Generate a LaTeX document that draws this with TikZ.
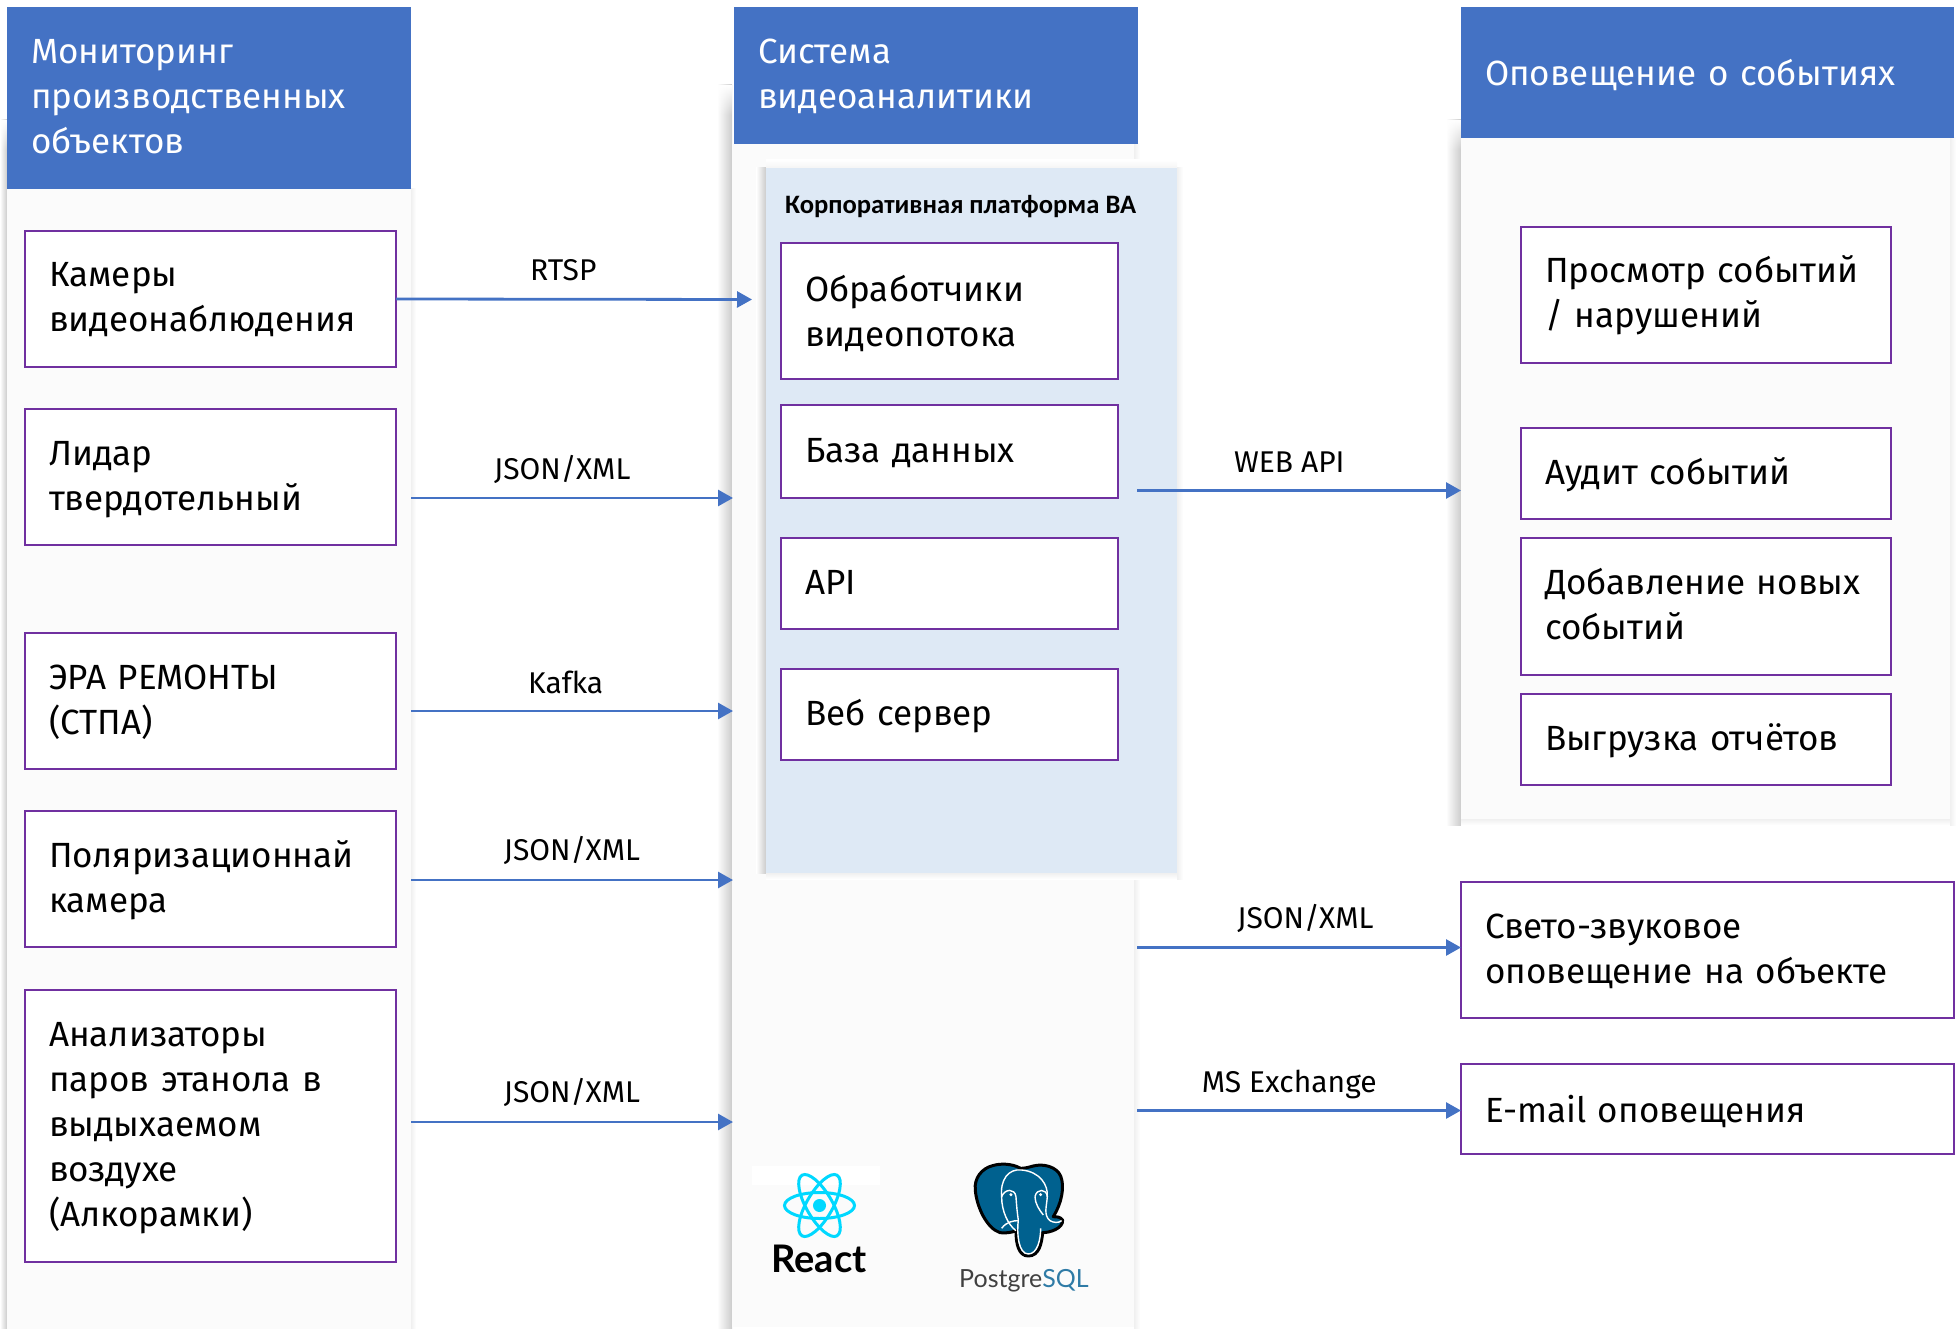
\documentclass[tikz,border=0pt]{standalone}
\usepackage{fontspec}
\setmainfont{Fira Sans}
\newfontfamily\titlefont{Carlito}
\newfontfamily\reactfont{Lato}
\usetikzlibrary{arrows.meta,fadings}
\definecolor{headblue}{HTML}{4472C4}
\definecolor{boxpurple}{HTML}{7030A0}
\definecolor{platblue}{HTML}{DEE9F5}
\definecolor{panelgray}{HTML}{FBFBFB}
\definecolor{reactcyan}{HTML}{00D8FF}
\definecolor{pgblue}{HTML}{00618F}
\definecolor{sqlblue}{HTML}{2F7BA6}
\newcommand{\boxstrut}{\rule[-12pt]{0pt}{45pt}}
\newcommand{\lowstrut}{\rule{0pt}{38pt}}
\tikzset{
    panel/.style={fill=panelgray, anchor=north west, inner sep=0pt, outer sep=0pt},
    head/.style={fill=headblue, text=white, anchor=north west, align=left, inner xsep=24pt, inner ysep=0pt, outer sep=0pt, font=\fontsize{35}{45}\selectfont, execute at begin node=\boxstrut, execute at end node=\boxstrut},
    item/.style={draw=boxpurple, line width=2.2pt, fill=white, anchor=north west, align=left, inner xsep=24pt, inner ysep=0pt, outer sep=0pt, font=\fontsize{35}{45}\selectfont, execute at begin node=\boxstrut, execute at end node=\boxstrut},
    lbl/.style={font=\fontsize{30}{32}\selectfont, inner sep=0pt},
    softshade/.style={left color=white, right color=black!20, draw=none},
    softright/.style={left color=black!6, right color=white, draw=none},
    softdown/.style={top color=black!6, bottom color=white, draw=none},
    softup/.style={top color=white, bottom color=black!4, draw=none},
    softtop/.style={fill=white, draw=none, path fading=south}
}
\begin{document}
\begin{tikzpicture}[x=1pt,y=-1pt]
\useasboundingbox (0,0) rectangle (1957,1329);
% shadows round the panels
\shade[softshade] (0,120) rectangle (7,1329);
\shade[softshade] (717,85) rectangle (732,1329);
\shade[softshade] (1446,120) rectangle (1461,825);
\fill[softtop] (0,120) rectangle (7,150);
\fill[softtop] (717,85) rectangle (732,115);
\fill[softtop] (1446,120) rectangle (1461,150);
\shade[softdown] (1461,819) rectangle (1950,825);
\shade[softright] (411,189) rectangle (416,1329);
\shade[softright] (1134,144) rectangle (1140,1329);
\shade[softright] (1950,138) rectangle (1956,825);
% panels
\node[panel, minimum width=404pt, minimum height=1140pt] (c1) at (7,189) {};
\node[panel, minimum width=402pt, minimum height=1183pt] (c2) at (732,144) {};
\node[panel, minimum width=489pt, minimum height=681pt] (c3) at (1461,138) {};
% headers
\node[head, text width=356pt, minimum height=182pt] (h1) at (7,7) {Мониторинг\\производственных\\объектов};
\node[head, text width=356pt, minimum height=137pt] (h2) at (734,7) {Система\\видеоаналитики};
\node[head, text width=445pt, minimum height=131pt] (h3) at (1461,7) {\lowstrut Оповещение о событиях};
% platform
\shade[softshade] (756,168) rectangle (766,873);
\shade[softright] (1177,168) rectangle (1183,879);
\shade[softdown] (766,873) rectangle (1177,879);
\shade[softup] (766,160) rectangle (1177,168);
\node[panel, fill=platblue, minimum width=411pt, minimum height=705pt] (p0) at (766,168) {};
\node[anchor=west, inner sep=0pt, font=\titlefont\bfseries\fontsize{26.6}{30}\selectfont] (p5) at (785,207) {Корпоративная платформа ВА};
% source boxes
\begin{scope}[every node/.append style={item, text width=323pt}]
    \node[minimum height=136pt] (s1) at (25,231) {Камеры\\видеонаблюдения};
    \node[minimum height=136pt] (s2) at (25,409) {Лидар\\твердотельный};
    \node[minimum height=136pt] (s3) at (25,633) {ЭРА РЕМОНТЫ\\(СТПА)};
    \node[minimum height=136pt] (s4) at (25,811) {Поляризационнай\\камера};
    \node[minimum height=272pt] (s5) at (25,990) {Анализаторы\\паров этанола в\\выдыхаемом\\воздухе\\(Алкорамки)};
\end{scope}
\begin{scope}[every node/.append style={item, text width=289pt}]
    \node[minimum height=136pt] (p1) at (781,243) {\lowstrut Обработчики\\видеопотока};
    \node[minimum height=93pt] (p2) at (781,405) {База данных};
    \node[minimum height=91pt] (p3) at (781,538) {API};
    \node[minimum height=91pt] (p4) at (781,669) {Веб сервер};
\end{scope}
\begin{scope}[every node/.append style={item, text width=322pt}]
    \node[minimum height=136pt] (e1) at (1521,227) {Просмотр событий\\/ нарушений};
    \node[minimum height=91pt] (e2) at (1521,428) {Аудит событий};
    \node[minimum height=137pt] (e3) at (1521,538) {Добавление новых\\событий};
    \node[minimum height=91pt] (e4) at (1521,694) {Выгрузка отчётов};
\end{scope}
\begin{scope}[every node/.append style={item, text width=445pt}]
    \node[minimum height=136pt] (e5) at (1461,882) {Свето-звуковое\\оповещение на объекте};
    \node[minimum height=90pt] (e6) at (1461,1064) {\lowstrut E-mail оповещения};
\end{scope}
% free ends of the connectors
\coordinate (a1) at (752,299.5);
\coordinate (a2s) at (411,498);
\coordinate (a2) at (733,498);
\coordinate (a3s) at (411,711);
\coordinate (a3) at (733,711);
\coordinate (a4s) at (411,880);
\coordinate (a4) at (733,880);
\coordinate (a5s) at (411,1122);
\coordinate (a5) at (733,1122);
\coordinate (b1s) at (1137,490.5);
\coordinate (b1) at (1461,490.5);
\coordinate (b2s) at (1137,947.5);
\coordinate (b3s) at (1137,1110.5);
\coordinate (b2) at (1461,947.5);
\coordinate (b3) at (1461,1110.5);
\begin{scope}[every edge/.style={draw=headblue, line width=2.8pt, -{Triangle[length=15pt,width=16pt]}}]
    \path (s1.east) edge node[lbl, above=17pt, pos=0.47] {RTSP} (a1);
    \path (a2s) edge node[lbl, above=13pt, pos=0.47] {JSON/XML} (a2);
    \path (a3s) edge node[lbl, above=15.5pt, pos=0.48] {Kafka} (a3);
    \path (a4s) edge node[lbl, above=13.5pt, pos=0.5] {JSON/XML} (a4);
    \path (a5s) edge node[lbl, above=13.5pt, pos=0.5] {JSON/XML} (a5);
    \path (b1s) edge node[lbl, above=17pt, pos=0.47] {WEB API} (b1);
    \path (b2s) edge node[lbl, above=13.5pt, pos=0.52] {JSON/XML} (b2);
    \path (b3s) edge node[lbl, above=10pt, pos=0.47] {MS Exchange} (b3);
\end{scope}
% React logo
\fill[white] (752,1166) rectangle (880,1185);
\begin{scope}[reactcyan, line width=3pt]
    \draw (819.5,1205.5) ellipse [x radius=35pt, y radius=13pt];
    \draw[rotate around={60:(819.5,1205.5)}] (819.5,1205.5) ellipse [x radius=35pt, y radius=13pt];
    \draw[rotate around={120:(819.5,1205.5)}] (819.5,1205.5) ellipse [x radius=35pt, y radius=13pt];
    \fill (819.5,1205.5) circle (6.5pt);
\end{scope}
\node[inner sep=0pt, font=\reactfont\bfseries\fontsize{38}{40}\selectfont] (r1) at (819,1259) {React};
% PostgreSQL logo
\begin{scope}[x=0.3333pt,y=-0.3333pt,shift={(700pt,-1100pt)}]
    \fill[pgblue, draw=black, line width=3pt, line join=round]
        (878,197) .. controls (845,205) and (822,235) .. (826,270)
        .. controls (830,320) and (860,385) .. (900,398)
        .. controls (915,400) and (935,398) .. (948,392)
        .. controls (948,430) and (955,468) .. (985,468)
        .. controls (1018,468) and (1025,430) .. (1028,398)
        .. controls (1050,398) and (1090,385) .. (1088,360)
        .. controls (1080,350) and (1070,350) .. (1060,350)
        .. controls (1085,310) and (1095,260) .. (1082,228)
        .. controls (1070,200) and (1030,190) .. (1000,198)
        .. controls (985,202) and (975,205) .. (962,205)
        .. controls (935,190) and (900,190) .. (878,197) -- cycle;
    \draw[white, line width=1.4pt]
        (948,392) .. controls (925,375) and (905,335) .. (905,290)
        .. controls (900,240) and (925,205) .. (965,210)
        .. controls (1020,215) and (1045,255) .. (1042,290)
        .. controls (1040,320) and (1030,345) .. (1050,362)
        .. controls (1060,368) and (1075,370) .. (1085,362);
    \draw[white, line width=1.4pt] (955,360) .. controls (950,400) and (955,462) .. (985,462)
        .. controls (1012,462) and (1022,420) .. (1022,385);
    \draw[white, line width=1.4pt] (905,385) .. controls (920,365) and (940,362) .. (955,362);
    \draw[white, line width=1.4pt] (905,290) .. controls (915,265) and (945,265) .. (948,290)
        .. controls (950,320) and (952,340) .. (955,360);
    \draw[white, line width=1.4pt] (1005,290) .. controls (1010,265) and (1040,265) .. (1042,290);
    \draw[white, line width=1.4pt] (1005,290) .. controls (1005,310) and (1018,330) .. (1030,345);
    \fill[white] (933,284) circle (5);
    \fill[white] (1022,284) circle (5);
\end{scope}
\node[anchor=west, inner sep=0pt, font=\reactfont\fontsize{25}{28}\selectfont] (r2) at (959,1281) {\textcolor{black!75}{Postgre}\textcolor{sqlblue}{SQL}};
\end{tikzpicture}
\end{document}
